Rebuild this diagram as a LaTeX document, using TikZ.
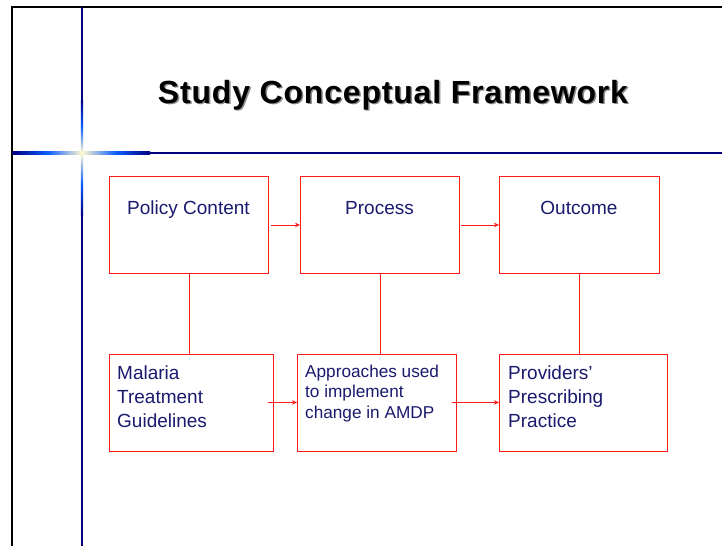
\documentclass[tikz,border=0pt]{standalone}
\usepackage{fontspec}
\setmainfont{Liberation Sans}
\newfontfamily\titlefont[LetterSpace=2.5]{Liberation Sans}
\usetikzlibrary{arrows.meta}
\definecolor{navytxt}{HTML}{1A1A6E}
\definecolor{rulenavy}{HTML}{000080}
\definecolor{glowblue}{HTML}{0A5CFF}
\definecolor{glowcore}{HTML}{FFFBD0}
\definecolor{boxred}{HTML}{FF1A1A}
\tikzset{
  box/.style={draw=boxred, line width=0.9pt, minimum width=#1, minimum height=97pt, inner sep=0pt, anchor=north west},
  box/.default=160pt,
  link/.style={draw=boxred, line width=0.9pt},
  flow/.style={draw=boxred, line width=0.9pt, -{Stealth[length=5pt,width=4.5pt]}},
  toptxt/.style={text=navytxt, font=\fontsize{19}{23}\selectfont, anchor=base, inner sep=0pt},
  bigtxt/.style={text=navytxt, font=\fontsize{19}{24}\selectfont, align=left, anchor=north west, inner sep=0pt},
  smalltxt/.style={text=navytxt, font=\fontsize{17.2}{20.7}\selectfont, align=left, anchor=north west, inner sep=0pt},
}
\begin{document}
\begin{tikzpicture}[x=1pt,y=-1pt]
\useasboundingbox (0,0) rectangle (722,546);
\fill[white] (0,0) rectangle (722,546);
% frame
\draw[black, line width=2.2pt] (12,546) -- (12,7) -- (722,7);
% navy rules
\draw[rulenavy, line width=2.8pt] (82,7) -- (82,546);
\draw[rulenavy, line width=2.8pt] (12,153) -- (722,153);
% glow
\shade[top color=rulenavy, bottom color=glowcore, middle color=glowblue] (80.9,100) rectangle (83.1,153);
\shade[top color=glowcore, bottom color=rulenavy, middle color=glowblue] (80.9,153) rectangle (83.1,215);
\shade[left color=rulenavy, right color=glowcore, middle color=glowblue] (13,151.9) rectangle (82,154.1);
\shade[left color=glowcore, right color=rulenavy, middle color=glowblue] (82,151.9) rectangle (150,154.1);
% title
\node[text=black!45, font=\titlefont\bfseries\fontsize{32}{38}\selectfont, anchor=base, inner sep=0pt] (titleshadow) at (394.5,104.5) {Study Conceptual Framework};
\node[text=black, font=\titlefont\bfseries\fontsize{32}{38}\selectfont, anchor=base, inner sep=0pt] (title) at (393,103) {Study Conceptual Framework};
% top boxes
\node[box=159pt] (p1) at (109,176) {};
\node[box=159pt] (p2) at (300,176) {};
\node[box=160pt] (p3) at (499,176) {};
\node[toptxt] (t1) at (188.5,214.5) {Policy Content};
\node[toptxt] (t2) at (379.5,214.5) {Process};
\node[toptxt] (t3) at (579,214.5) {Outcome};
% bottom boxes
\node[box=164pt] (m1) at (109,354) {};
\node[box=159pt] (m2) at (297,354) {};
\node[box=168pt] (m3) at (499,354) {};
\node[bigtxt] (b1) at (117,365.5) {Malaria\\Treatment\\Guidelines};
\node[smalltxt] (b2) at (305,364.5) {Approaches used\\to implement\\change in AMDP};
\node[bigtxt] (b3) at (508,365.5) {Providers’\\Prescribing\\Practice};
% connectors
\draw[link] (p1.south) -- (p1.south |- m1.north);
\draw[link] (p2.south) -- (p2.south |- m2.north);
\draw[link] (p3.south) -- (p3.south |- m3.north);
\draw[flow] ([xshift=2.5pt]p1.east) -- (p2.west);
\draw[flow] ([xshift=1.5pt]p2.east) -- (p3.west);
\coordinate (a1) at ([xshift=-6pt,yshift=0.5pt]m1.east);
\coordinate (a2) at ([xshift=-5pt,yshift=0.5pt]m2.east);
\draw[flow] (a1) -- (a1 -| m2.west);
\draw[flow] (a2) -- (a2 -| m3.west);
\end{tikzpicture}
\end{document}
